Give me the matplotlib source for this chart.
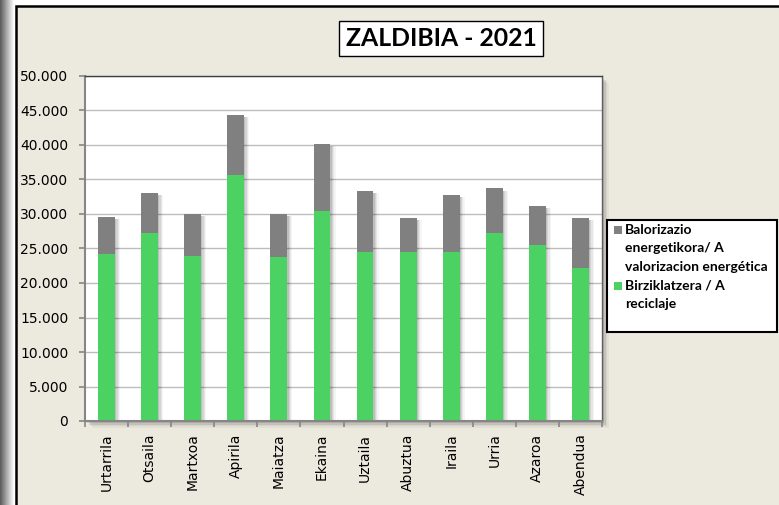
import numpy as np
import matplotlib
matplotlib.use("Agg")
import matplotlib.pyplot as plt
from matplotlib.patches import Rectangle
from matplotlib.ticker import FuncFormatter, MultipleLocator

months = ["Urtarrila", "Otsaila", "Martxoa", "Apirila", "Maiatza", "Ekaina",
          "Uztaila", "Abuztua", "Iraila", "Urria", "Azaroa", "Abendua"]
reciclaje = [24200, 27200, 23900, 35700, 23800, 30400,
             24500, 24500, 24500, 27200, 25500, 22200]
total = [29600, 33100, 30000, 44300, 30000, 40100,
         33400, 29400, 32800, 33700, 31200, 29400]
valorizacion = [t - r for t, r in zip(total, reciclaje)]
label_val = "Balorizazio\nenergetikora/ A\nvalorizacion energética"
label_rec = "Birziklatzera / A\nreciclaje"
title = "ZALDIBIA - 2021"

GREEN = "#4cd262"
GRAY = "#808080"
BEIGE = "#ece9df"

W, H = 779, 505
fig = plt.figure(figsize=(W / 100, H / 100), dpi=100)
fig.patch.set_facecolor("white")

def fx(x):
    return x / W

def fy(y):
    return 1 - y / H

# left gradient strip
gax = fig.add_axes([0, 0, fx(14), 1])
grad = np.linspace(0.35, 1.0, 64)[None, :]
gax.imshow(np.repeat(grad, 2, axis=0), cmap="gray", vmin=0, vmax=1,
           aspect="auto", extent=[0, 1, 0, 1])
gax.set_axis_off()

# chart area background (right/bottom edges lie outside the picture)
fig.patches.append(Rectangle((fx(15.5), -0.05), 1.1, fy(6) + 0.05, transform=fig.transFigure,
                             facecolor=BEIGE, edgecolor="black", linewidth=1.8, zorder=0))

# plot area shadow
for i, a in enumerate([0.10, 0.08, 0.06, 0.04]):
    fig.patches.append(Rectangle((fx(85 + 2 + i * 1.5), fy(421 + 2 + i * 1.5)), fx(517), 345 / H,
                                 transform=fig.transFigure, facecolor="black", alpha=a,
                                 edgecolor="none", zorder=0.5))

ax = fig.add_axes([fx(85), fy(421), fx(517), 345 / H])
ax.set_facecolor("white")
ax.set_zorder(1)

x = np.arange(len(months))
bw = 0.39
# bar shadows
for i, a in enumerate([0.10, 0.08, 0.06, 0.04]):
    off = 0.03 + i * 0.03
    ax.bar(x + off, total, width=bw, bottom=-300, color="black", alpha=a, zorder=1,
           linewidth=0)
ax.bar(x, reciclaje, width=bw, color=GREEN, zorder=2, linewidth=0)
ax.bar(x, valorizacion, width=bw, bottom=reciclaje, color=GRAY, zorder=2, linewidth=0)

ax.set_xlim(-0.5, 11.5)
ax.set_ylim(0, 50000)
ax.yaxis.set_major_locator(MultipleLocator(5000))
ax.yaxis.set_major_formatter(FuncFormatter(lambda v, p: f"{int(v):,}".replace(",", ".")))
ax.grid(axis="y", color="#bdbdbd", linewidth=1.0, zorder=0)
ax.set_axisbelow(True)

ax.set_xticks(x)
ax.set_xticklabels(months, rotation=90, fontsize=10, family="DejaVu Sans")
ax.set_xticks(np.arange(-0.5, 12, 1), minor=True)
ax.tick_params(axis="x", which="major", length=0, pad=9)
ax.tick_params(axis="x", which="minor", length=4, color="#868686", width=1.2, direction="out")
ax.tick_params(axis="y", length=4, color="#868686", width=1.2, pad=8, labelsize=10)

for s in ["left", "bottom"]:
    ax.spines[s].set_color("#868686")
    ax.spines[s].set_linewidth(1.5)
ax.spines["top"].set_color("#404040")
ax.spines["right"].set_color("#606060")
ax.spines["top"].set_linewidth(1.0)
ax.spines["right"].set_linewidth(1.0)

# title box
fig.text(fx(441), fy(38.5), title, ha="center", va="center", fontsize=17.8,
         fontweight="bold", family="Lato",
         bbox=dict(boxstyle="square,pad=0.25", facecolor="white", edgecolor="black", linewidth=1.0))

# legend box
fig.patches.append(Rectangle((fx(607), fy(332)), fx(170), 112 / H, transform=fig.transFigure,
                             facecolor="white", edgecolor="black", linewidth=1.5, zorder=2))
entries = [(label_val, GRAY, 230), (label_rec, GREEN, 285.5)]
for lab, col, ytop in entries:
    fig.patches.append(Rectangle((fx(614), fy(ytop + 4)), fx(8), 8 / H,
                                 transform=fig.transFigure, facecolor=col,
                                 edgecolor="none", zorder=3))
    for j, line in enumerate(lab.split("\n")):
        fig.text(fx(625), fy(ytop + j * 18.3), line, ha="left", va="center",
                 fontsize=10, fontweight="bold", family="Lato", zorder=4)

fig.savefig("out.png", dpi=100)
